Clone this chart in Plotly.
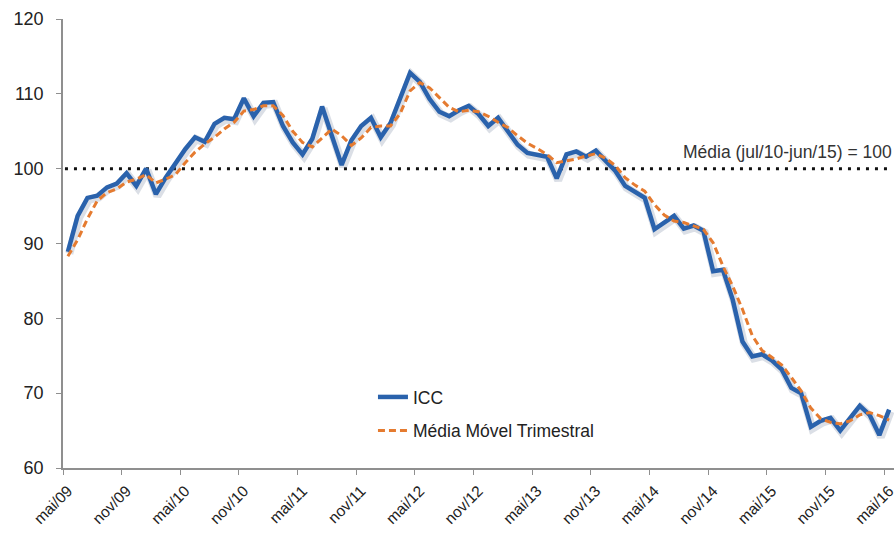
import plotly.graph_objects as go

# Monthly series, mai/09 .. mai/16
months_pt = ["jan", "fev", "mar", "abr", "mai", "jun", "jul", "ago", "set", "out", "nov", "dez"]
start_month, start_year, n_months = 4, 2009, 85
periods = []
for k in range(n_months):
    m = (start_month + k) % 12
    y = start_year + (start_month + k) // 12
    periods.append(f"{months_pt[m]}/{str(y)[2:]}")

icc = [
    88.9, 93.7, 96.1, 96.4, 97.5, 98.0, 99.4, 97.7, 100.0, 96.6,
    98.8, 100.8, 102.6, 104.2, 103.6, 106.0, 106.8, 106.6, 109.4, 107.0,
    108.8, 108.9, 105.7, 103.5, 101.9, 104.0, 108.3, 104.4, 100.5, 103.8,
    105.7, 106.8, 104.2, 106.1, 109.5, 112.8, 111.6, 109.3, 107.6, 107.0,
    107.8, 108.4, 107.3, 105.7, 106.8, 105.0, 103.2, 102.1, 101.9, 101.6,
    98.7, 101.9, 102.3, 101.6, 102.4, 101.0, 99.7, 97.7, 96.9, 96.1,
    91.9, 92.8, 93.7, 92.0, 92.4, 91.7, 86.3, 86.5, 82.5, 76.9,
    74.9, 75.2, 74.4, 73.2, 70.7, 70.0, 65.5, 66.3, 66.7, 65.0,
    66.6, 68.3, 67.1, 64.4, 67.8,
]

media_movel = [
    88.3, 90.5, 93.3, 95.7, 96.8, 97.3, 98.2, 98.6, 99.2, 98.1,
    98.6, 99.2, 100.8, 102.2, 103.3, 104.2, 105.3, 106.2, 107.7, 107.9,
    108.4, 108.4, 107.1, 105.0, 103.5, 102.9, 104.1, 105.3, 104.4, 103.1,
    104.1, 105.5, 105.7, 105.7, 107.4, 110.4, 111.5, 110.8, 109.5, 108.2,
    107.6, 107.8, 107.6, 107.0, 106.2, 105.5, 104.4, 103.4, 102.7, 101.9,
    100.8, 101.0, 101.3, 101.7, 102.0, 101.4, 100.4, 98.8, 97.8, 97.0,
    95.2, 93.8, 93.0, 92.8, 92.4, 91.9, 90.1, 87.0, 84.3, 81.2,
    77.7, 75.7, 74.8, 73.8, 72.1, 70.3, 68.0, 66.6, 66.1, 65.9,
    66.3, 67.1, 67.4, 67.0, 66.4,
]

reference_level = 100
reference_label = "Média (jul/10-jun/15) = 100"

x = list(range(n_months))
label_idx = list(range(0, n_months, 6))
label_txt = [periods[i] for i in label_idx]
boundaries = [i - 0.5 for i in label_idx]

FONT = "Liberation Sans, Arial, sans-serif"
AXIS_GREY = "#8f8f8f"
BLUE = "#2a62ac"
ORANGE = "#e57b30"
TEXT = "#222222"

fig = go.Figure()

# soft shadow under the index line
fig.add_trace(go.Scatter(
    x=[v + 0.15 for v in x], y=[v - 0.25 for v in icc], mode="lines",
    line=dict(color="rgba(90,110,140,0.22)", width=8),
    hoverinfo="skip", showlegend=False,
))

fig.add_trace(go.Scatter(
    x=x, y=icc, mode="lines", name="ICC",
    line=dict(color=BLUE, width=4.5), legend="legend",
))
fig.add_trace(go.Scatter(
    x=x, y=media_movel, mode="lines", name="Média Móvel Trimestral",
    line=dict(color=ORANGE, width=3, dash="7px,4px"), legend="legend2",
))

# average reference level
fig.add_shape(
    type="line", xref="x", yref="y",
    x0=-0.3, x1=n_months - 0.9, y0=reference_level, y1=reference_level,
    line=dict(color="#111111", width=3, dash="3px,6px"), layer="below",
)
fig.add_annotation(
    x=n_months - 0.5, y=reference_level, xref="x", yref="y",
    text=reference_label, showarrow=False,
    xanchor="right", yanchor="bottom", yshift=5,
    font=dict(family=FONT, size=17.5, color="#333333"),
)

legend_common = dict(
    xanchor="left", yanchor="middle", x=0.373,
    bgcolor="rgba(0,0,0,0)", borderwidth=0,
    font=dict(family=FONT, size=17.5, color=TEXT),
)

fig.update_layout(
    width=896, height=533,
    margin=dict(l=63, r=2, t=19, b=65),
    paper_bgcolor="white", plot_bgcolor="white",
    font=dict(family=FONT, size=16, color=TEXT),
    showlegend=True,
    legend=dict(y=0.158, **legend_common),
    legend2=dict(y=0.083, **legend_common),
    xaxis=dict(
        range=[-0.5, n_months - 0.5], automargin=False,
        tickmode="array", tickvals=label_idx, ticktext=label_txt,
        tickangle=-45, ticks="", showgrid=False, zeroline=False,
        showline=True, linecolor=AXIS_GREY, linewidth=1.5,
        tickfont=dict(family=FONT, size=15.5, color=TEXT),
        ticklabelstandoff=6, ticklabeloverflow="allow",
        minor=dict(tickmode="array", tickvals=boundaries, ticks="outside",
                   ticklen=5, tickcolor=AXIS_GREY, tickwidth=1, showgrid=False),
    ),
    yaxis=dict(
        range=[60, 120], tickmode="linear", tick0=60, dtick=10, automargin=False,
        ticks="outside", ticklen=5, tickcolor=AXIS_GREY,
        showgrid=False, zeroline=False,
        showline=True, linecolor=AXIS_GREY, linewidth=1.5,
        tickfont=dict(family=FONT, size=18, color=TEXT),
        ticklabelstandoff=9,
    ),
)

fig.write_html("out.html")
